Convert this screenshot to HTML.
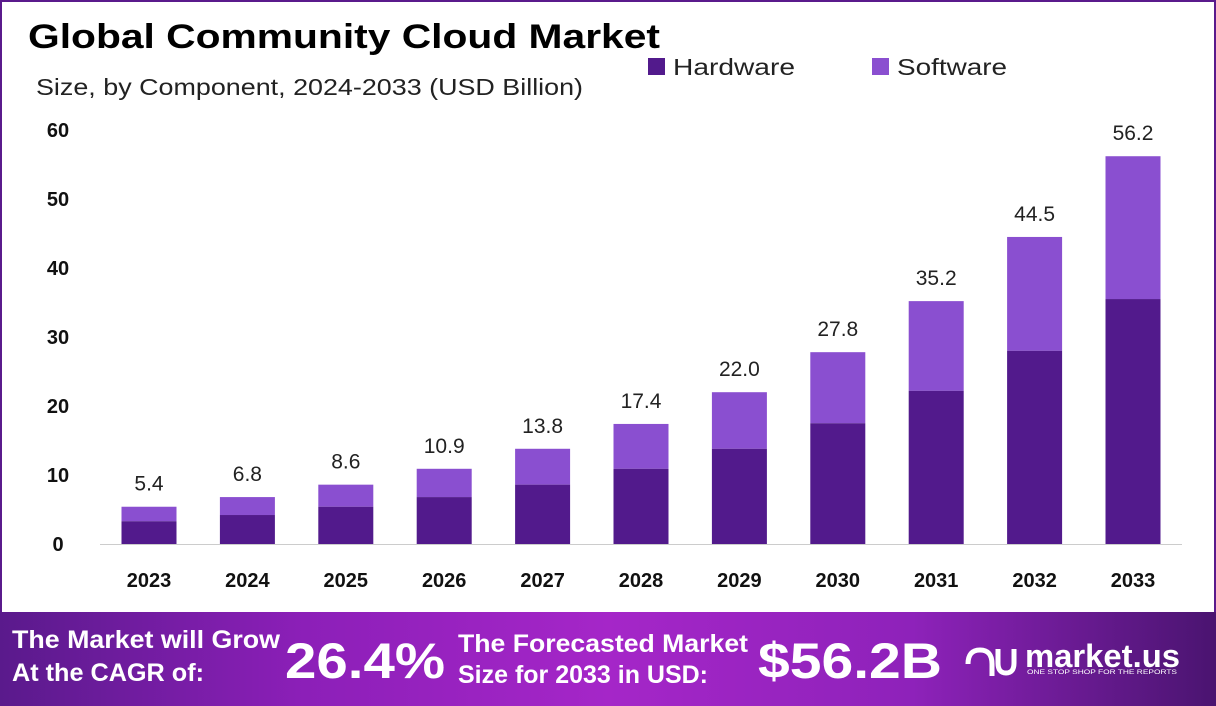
<!DOCTYPE html>
<html><head><meta charset="utf-8"><style>
html,body{margin:0;padding:0;background:#fff}
body{width:1216px;height:706px;overflow:hidden;position:relative;font-family:"Liberation Sans",sans-serif}
</style></head><body>
<svg width="1216" height="706" viewBox="0 0 1216 706" style="position:absolute;left:0;top:0">
<defs>
<linearGradient id="fg" x1="0" x2="1" y1="0" y2="0">
<stop offset="0" stop-color="#5a1a8c"/>
<stop offset="0.25" stop-color="#8c1fb8"/>
<stop offset="0.5" stop-color="#a526c8"/>
<stop offset="0.75" stop-color="#8e22ba"/>
<stop offset="1" stop-color="#4a1470"/>
</linearGradient>
</defs>
<rect x="0" y="0" width="1216" height="706" fill="#fff"/>
<rect x="1" y="1" width="1214" height="612" fill="none" stroke="#5a1a8c" stroke-width="2"/>
<rect x="0" y="612" width="1216" height="94" fill="url(#fg)"/>
<text x="28" y="48" font-size="34" font-weight="bold" fill="#000" textLength="632" lengthAdjust="spacingAndGlyphs">Global Community Cloud Market</text>
<text x="36" y="95" font-size="23" fill="#222" textLength="547" lengthAdjust="spacingAndGlyphs">Size, by Component, 2024-2033 (USD Billion)</text>
<rect x="648" y="58" width="17" height="17" fill="#521a8c"/>
<text x="673" y="75" font-size="23" fill="#222" textLength="122" lengthAdjust="spacingAndGlyphs">Hardware</text>
<rect x="872" y="58" width="17" height="17" fill="#8a4fd0"/>
<text x="897" y="75" font-size="23" fill="#222" textLength="110" lengthAdjust="spacingAndGlyphs">Software</text>
<g font-size="20" font-weight="bold" fill="#111" text-anchor="middle">
<text x="58" y="137">60</text><text x="58" y="206">50</text><text x="58" y="275">40</text>
<text x="58" y="344">30</text><text x="58" y="413">20</text><text x="58" y="482">10</text><text x="58" y="551">0</text>
</g>
<line x1="100" y1="544.5" x2="1182" y2="544.5" stroke="#ccc" stroke-width="1"/>
<g id="bars"></g>
<g font-weight="bold" fill="#fff">
<text x="12" y="648" font-size="25" textLength="268" lengthAdjust="spacingAndGlyphs">The Market will  Grow</text>
<text x="12" y="681" font-size="25" textLength="192" lengthAdjust="spacingAndGlyphs">At the CAGR of:</text>
<text x="285" y="678" font-size="50" textLength="160" lengthAdjust="spacingAndGlyphs">26.4%</text>
<text x="458" y="652" font-size="25" textLength="290" lengthAdjust="spacingAndGlyphs">The Forecasted Market</text>
<text x="458" y="683" font-size="25" textLength="250" lengthAdjust="spacingAndGlyphs">Size for 2033 in USD:</text>
<text x="758" y="678" font-size="50" textLength="184" lengthAdjust="spacingAndGlyphs">$56.2B</text>
<text x="1025" y="667" font-size="32" textLength="155" lengthAdjust="spacingAndGlyphs">market.us</text>
<text x="1027" y="674" font-size="6" font-weight="normal" textLength="150" lengthAdjust="spacingAndGlyphs">ONE STOP SHOP FOR THE REPORTS</text>
<path d="M968 664 q0 -14 12 -14 q12 0 12 14 v12 M998 649 v14 q0 10 8 10 q8 0 8 -10 v-14" fill="none" stroke="#fff" stroke-width="5"/>
</g>
</svg>
<script>
var tot=[5.4,6.8,8.6,10.9,13.8,17.4,22.0,27.8,35.2,44.5,56.2];
var hw=[3.3,4.2,5.4,6.8,8.6,10.9,13.8,17.5,22.2,28.0,35.5];
var g=document.getElementById('bars'),s='';
for(var i=0;i<11;i++){var cx=149+i*98.4,x=cx-27.5,yb=544,yt=yb-tot[i]*6.9,yh=yb-hw[i]*6.9;
s+='<rect x="'+x+'" y="'+yt+'" width="55" height="'+(yh-yt)+'" fill="#8a4fd0"/>';
s+='<rect x="'+x+'" y="'+yh+'" width="55" height="'+(yb-yh)+'" fill="#521a8c"/>';
s+='<text x="'+cx+'" y="'+(yt-16)+'" font-size="21" fill="#222" text-anchor="middle">'+tot[i].toFixed(1)+'</text>';
s+='<text x="'+cx+'" y="587" font-size="20" font-weight="bold" fill="#111" text-anchor="middle">'+(2023+i)+'</text>';}
g.innerHTML=s;
</script>
</body></html>
